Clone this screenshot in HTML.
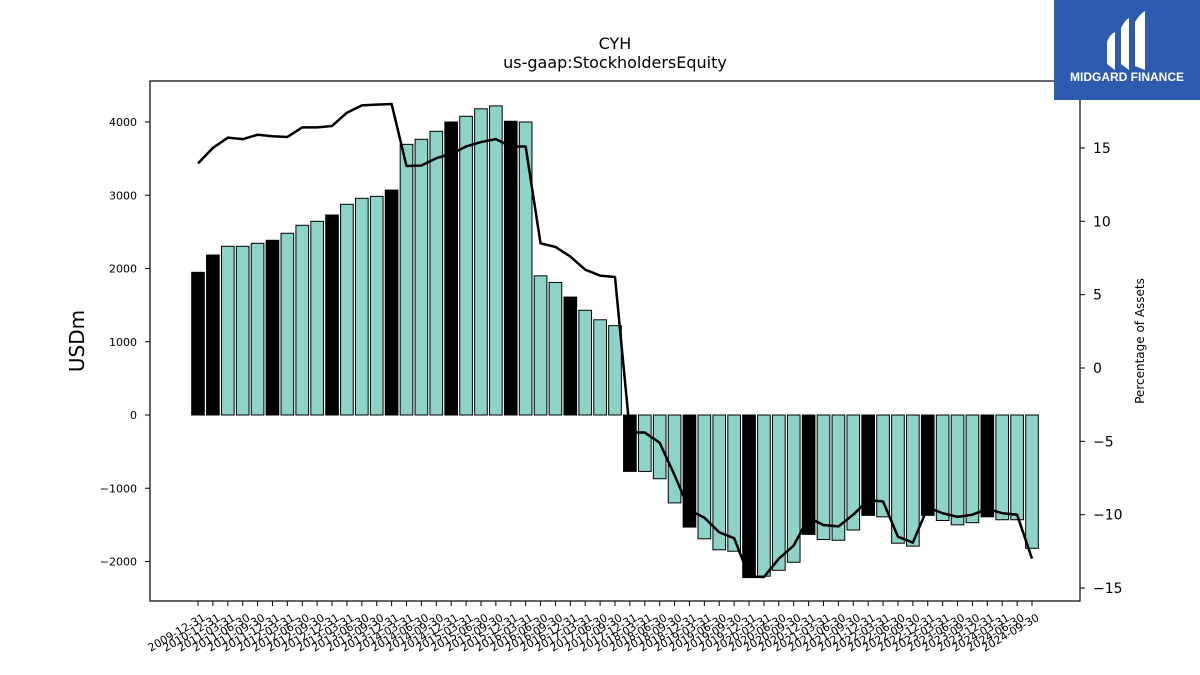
<!DOCTYPE html>
<html><head><meta charset="utf-8"><style>
html,body{margin:0;padding:0;background:#fff;}
svg{display:block;font-family:"DejaVu Sans","Liberation Sans",sans-serif;}
</style></head><body>
<svg id="chart" width="1200" height="675" xmlns="http://www.w3.org/2000/svg">
<rect width="1200" height="675" fill="#fff"/>
<text x="615" y="49" text-anchor="middle" font-size="16">CYH</text>
<text x="615" y="68" text-anchor="middle" font-size="16">us-gaap:StockholdersEquity</text>
<g id="bars"></g>
<g id="line"></g>
<rect x="150" y="81" width="930" height="520" fill="none" stroke="#000" stroke-width="1.2"/>
<g id="xaxis"></g>
<g id="yaxis"></g>
<g id="y2axis"></g>
<text transform="translate(84,341) rotate(-90)" text-anchor="middle" font-size="20">USDm</text>
<text transform="translate(1144,341) rotate(-90)" text-anchor="middle" font-size="12">Percentage of Assets</text>
<g>
<rect x="1054" y="0" width="146" height="100" fill="#2d5bb0"/>
<path d="M1107,42 q3,-8 8,-10 v38 l-8,-6z M1121,28 q4,-8 8,-10 v52 l-8,-6z M1135,22 q5,-8 10,-11 v59 l-10,-4z" fill="#fff"/>
<text x="1127" y="81" text-anchor="middle" font-size="12" font-weight="bold" fill="#fff" font-family="Liberation Sans, sans-serif">MIDGARD FINANCE</text>
</g>
</svg>
<script>
const categories=["2009-12-31","2010-12-31"];
(function(){for(let y=2011;y<=2024;y++){for(const q of ["03-31","06-30","09-30","12-31"]){if(y===2024&&q==="12-31")break;categories.push(y+"-"+q);}}})();
const equity=[1948,2184,2303,2303,2344,2385,2481,2590,2644,2730,2876,2958,2985,3071,3695,3764,3873,4000,4078,4180,4220,4010,4000,1900,1810,1610,1430,1300,1220,-770,-770,-870,-1200,-1530,-1690,-1840,-1860,-2220,-2200,-2120,-2010,-1630,-1700,-1710,-1570,-1370,-1390,-1750,-1790,-1370,-1440,-1500,-1470,-1390,-1430,-1430,-1820];
const pctAssets=[13.95,15.0,15.7,15.6,15.9,15.8,15.75,16.4,16.4,16.5,17.4,17.9,17.95,18.0,13.77,13.8,14.3,14.6,15.1,15.4,15.6,15.1,15.1,8.5,8.25,7.6,6.7,6.3,6.2,-4.4,-4.4,-5.1,-7.3,-9.7,-10.2,-11.2,-11.6,-14.2,-14.25,-13.0,-12.1,-10.2,-10.7,-10.8,-10.0,-9.0,-9.1,-11.5,-11.9,-9.5,-9.9,-10.15,-10.0,-9.6,-9.9,-10.0,-13.0];
const yTicks=[-2000,-1000,0,1000,2000,3000,4000];
const y2Ticks=[-15,-10,-5,0,5,10,15];
const NS="http://www.w3.org/2000/svg";
const n=categories.length;
const x0=198,x1=1032;
const xs=i=>x0+i*(x1-x0)/(n-1);
const ys=v=>415-v*0.07325;
const y2s=v=>368-v*14.67;
const bw=0.85*(x1-x0)/(n-1);
function mk(tag,attrs,parent){const e=document.createElementNS(NS,tag);for(const k in attrs)e.setAttribute(k,attrs[k]);parent.appendChild(e);return e;}
const bars=document.getElementById('bars');
equity.forEach((v,i)=>{
  const isQ4=categories[i].endsWith("12-31");
  const r=mk('rect',{x:xs(i)-bw/2,y:Math.min(ys(v),ys(0)),width:bw,height:Math.abs(ys(v)-ys(0)),fill:isQ4?'#000':'#8dd3c7',stroke:'#000','stroke-width':1},bars);
  
  
});
const line=document.getElementById('line');
const p=mk('polyline',{points:pctAssets.map((v,i)=>xs(i)+','+y2s(v)).join(' '),fill:'none',stroke:'#000','stroke-width':2.5,'stroke-linejoin':'round'},line);


const xa=document.getElementById('xaxis');
categories.forEach((c,i)=>{
  const x=xs(i);
  mk('line',{x1:x,x2:x,y1:601,y2:606,stroke:'#000'},xa);
  const t=mk('text',{transform:`translate(${x+4},${613}) rotate(-30)`,'text-anchor':'end','font-size':11,'dominant-baseline':'hanging'},xa);
  t.textContent=c;
  
  
});
const ya=document.getElementById('yaxis');
yTicks.forEach(v=>{
  const y=ys(v);
  mk('line',{x1:145,x2:150,y1:y,y2:y,stroke:'#000'},ya);
  const t=mk('text',{x:137,y:y+4,'text-anchor':'end','font-size':11},ya);
  t.textContent=v<0?'\u2212'+Math.abs(v):String(v);
  
  
});
const y2a=document.getElementById('y2axis');
y2Ticks.forEach(v=>{
  const y=y2s(v);
  mk('line',{x1:1080,x2:1085,y1:y,y2:y,stroke:'#000'},y2a);
  const t=mk('text',{x:1093,y:y+5,'text-anchor':'start','font-size':14},y2a);
  t.textContent=v<0?'\u2212'+Math.abs(v):String(v);
  
  
});
</script>
</body></html>
